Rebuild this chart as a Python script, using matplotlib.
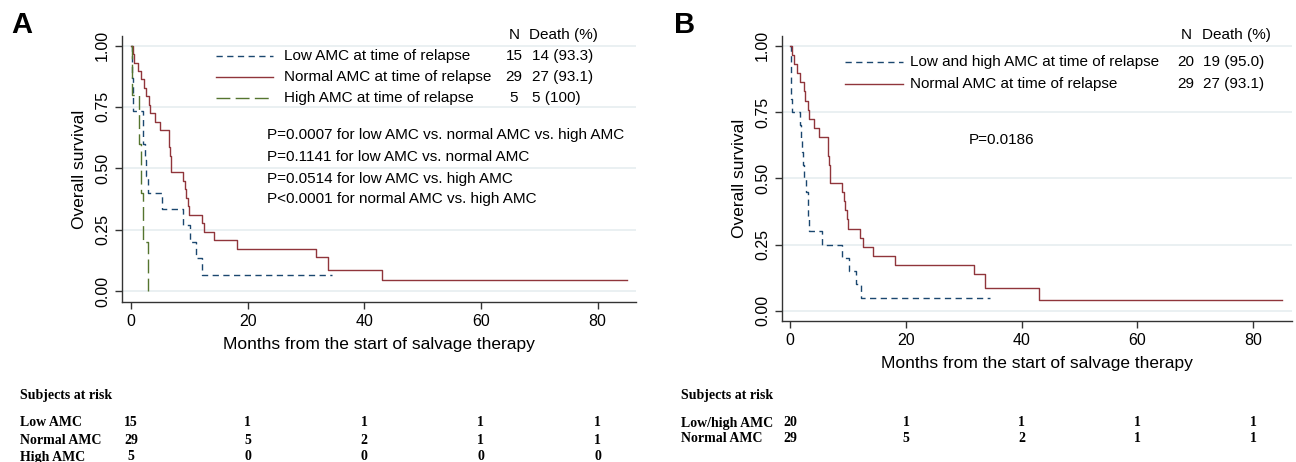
import matplotlib
matplotlib.use("Agg")
import matplotlib.pyplot as plt
from matplotlib.lines import Line2D
from matplotlib.transforms import blended_transform_factory

plt.rcParams['font.family'] = ['Liberation Sans', 'DejaVu Sans']
plt.rcParams['lines.scale_dashes'] = False

W, H = 1296, 462

# ---- data (months, survival) ----
months_low = [0, 0.1, 0.2, 0.3, 0.4, 2.0, 2.1, 2.4, 2.5, 3.0, 5.3, 8.9, 10.2, 11.1, 12.1, 34.5]
surv_low = [1.0, 0.933, 0.867, 0.8, 0.733, 0.667, 0.6, 0.533, 0.467, 0.4, 0.333, 0.267, 0.2, 0.133, 0.067, 0.067]

months_normal = [0, 0.3, 0.6, 1.2, 1.7, 2.3, 2.6, 3.1, 3.3, 4.1, 5.0, 6.5, 6.6, 6.7, 6.8, 6.9,
                 9.0, 9.2, 9.4, 9.8, 10.0, 12.1, 12.5, 14.3, 18.1, 31.8, 33.7, 43.0, 85.0]
surv_normal = [1.0, 0.966, 0.931, 0.897, 0.862, 0.828, 0.793, 0.759, 0.724, 0.690, 0.655, 0.621, 0.586, 0.552, 0.517, 0.483,
               0.448, 0.414, 0.379, 0.345, 0.310, 0.276, 0.241, 0.207, 0.172, 0.138, 0.086, 0.043, 0.043]

months_high = [0, 0.1, 1.4, 1.7, 2.0, 3.0]
surv_high = [1.0, 0.8, 0.6, 0.4, 0.2, 0.0]

months_lowhigh = [0, 0.05, 0.1, 0.15, 0.2, 0.25, 1.6, 1.8, 2.0, 2.2, 2.4, 2.7, 3.0, 3.1, 3.2,
                  5.5, 8.9, 10.2, 11.3, 12.2, 34.5]
surv_lowhigh = [1.0, 0.95, 0.9, 0.85, 0.8, 0.75, 0.7, 0.65, 0.6, 0.55, 0.5, 0.45, 0.4, 0.35, 0.3,
                0.25, 0.2, 0.15, 0.1, 0.05, 0.05]

risk_times = [0, 20, 40, 60, 80]
risk_a_labels = ["Low AMC", "Normal AMC", "High AMC"]
risk_a = [[15, 1, 1, 1, 1], [29, 5, 2, 1, 1], [5, 0, 0, 0, 0]]
risk_b_labels = ["Low/high AMC", "Normal AMC"]
risk_b = [[20, 1, 1, 1, 1], [29, 5, 2, 1, 1]]

legend_a = [("Low AMC at time of relapse", "15", "14 (93.3)"),
            ("Normal AMC at time of relapse", "29", "27 (93.1)"),
            ("High AMC at time of relapse", "5", "5 (100)")]
legend_b = [("Low and high AMC at time of relapse", "20", "19 (95.0)"),
            ("Normal AMC at time of relapse", "29", "27 (93.1)")]
pvals_a = ["P=0.0007 for low AMC vs. normal AMC vs. high AMC",
           "P=0.1141 for low AMC vs. normal AMC",
           "P=0.0514 for low AMC vs. high AMC",
           "P<0.0001 for normal AMC vs. high AMC"]
pval_b = "P=0.0186"

BLUE = "#1a476f"
RED = "#90353b"
GREEN = "#55752f"
GRID = "#e6eef0"
STYLE_BLUE = dict(color=BLUE, lw=1.0, dashes=(4.5, 3.2))
STYLE_RED = dict(color=RED, lw=1.0)
STYLE_GREEN = dict(color=GREEN, lw=1.0, dashes=(10, 3.8))


def fx(x):
    return x / W


def fy(y):
    return 1 - y / H


fig = plt.figure(figsize=(W / 100, H / 100), dpi=100)


def setup_axes(rect, xlim, ylim):
    ax = fig.add_axes(rect)
    ax.set_xlim(*xlim)
    ax.set_ylim(*ylim)
    for s in ["top", "right"]:
        ax.spines[s].set_visible(False)
    for s in ["left", "bottom"]:
        ax.spines[s].set_color("#333333")
        ax.spines[s].set_linewidth(1.0)
    ax.set_xticks([0, 20, 40, 60, 80])
    ax.set_yticks([0, 0.25, 0.5, 0.75, 1.0])
    ax.set_yticklabels(["0.00", "0.25", "0.50", "0.75", "1.00"], rotation=90, va="center")
    ax.tick_params(length=5, width=1, color="#333333", labelsize=11.5)
    for v in [0, 0.25, 0.5, 0.75, 1.0]:
        ax.axhline(v, color=GRID, lw=1.2, zorder=0)
    ax.set_ylabel("Overall survival", fontsize=12.5, labelpad=6)
    ax.set_xlabel("Months from the start of salvage therapy", fontsize=12.5, labelpad=6)
    return ax


# ---------------- Panel A ----------------
axA = setup_axes([fx(122), fy(302), fx(514), 266 / H], (-1.54, 86.6), (-0.045, 1.039))
axA.step(months_low, surv_low, where="post", **STYLE_BLUE)
axA.step(months_normal, surv_normal, where="post", **STYLE_RED)
axA.step(months_high, surv_high, where="post", **STYLE_GREEN)

fig.text(fx(22), fy(25), "A", fontsize=21, fontweight="bold", ha="center", va="center")

fig.text(fx(509), fy(35), "N", fontsize=11, va="center", ha="left")
fig.text(fx(529), fy(35), "Death (%)", fontsize=11, va="center", ha="left")
for (lab, n, d), st, yy in zip(legend_a, [STYLE_BLUE, STYLE_RED, STYLE_GREEN], [56, 77, 98]):
    fig.add_artist(Line2D([fx(216), fx(273)], [fy(yy), fy(yy)], **st))
    fig.text(fx(284), fy(yy), lab, fontsize=11, va="center")
    fig.text(fx(514), fy(yy), n, fontsize=11, va="center", ha="center")
    fig.text(fx(532), fy(yy), d, fontsize=11, va="center")
for txt, yy in zip(pvals_a, [135, 157, 179, 199]):
    fig.text(fx(267), fy(yy), txt, fontsize=11, va="center")

trA = blended_transform_factory(axA.transData, fig.transFigure)
serif = ['Liberation Serif', 'DejaVu Serif']
fig.text(fx(20), fy(395), "Subjects at risk", family=serif, fontweight="bold", fontsize=10, va="center")
for lab, row, yy in zip(risk_a_labels, risk_a, [423, 440, 457]):
    fig.text(fx(20), fy(yy), lab, family=serif, fontweight="bold", fontsize=10, va="center")
    for t, v in zip(risk_times, row):
        fig.text(t, fy(yy), str(v), transform=trA, family=serif, fontweight="bold",
                 fontsize=10, va="center", ha="center")

# ---------------- Panel B ----------------
axB = setup_axes([fx(782), fy(321), fx(510), 285 / H], (-1.43, 86.7), (-0.038, 1.037))
axB.step(months_lowhigh, surv_lowhigh, where="post", **STYLE_BLUE)
axB.step(months_normal, surv_normal, where="post", **STYLE_RED)

fig.text(fx(685), fy(25), "B", fontsize=21, fontweight="bold", ha="center", va="center")

fig.text(fx(1181), fy(35), "N", fontsize=11, va="center", ha="left")
fig.text(fx(1202), fy(35), "Death (%)", fontsize=11, va="center", ha="left")
for (lab, n, d), st, yy in zip(legend_b, [STYLE_BLUE, STYLE_RED], [62, 84]):
    fig.add_artist(Line2D([fx(845), fx(903)], [fy(yy), fy(yy)], **st))
    fig.text(fx(910), fy(yy), lab, fontsize=11, va="center")
    fig.text(fx(1186), fy(yy), n, fontsize=11, va="center", ha="center")
    fig.text(fx(1203), fy(yy), d, fontsize=11, va="center")
fig.text(fx(969), fy(140), pval_b, fontsize=11, va="center")

trB = blended_transform_factory(axB.transData, fig.transFigure)
fig.text(fx(681), fy(395), "Subjects at risk", family=serif, fontweight="bold", fontsize=10, va="center")
for lab, row, yy in zip(risk_b_labels, risk_b, [423, 439]):
    fig.text(fx(681), fy(yy), lab, family=serif, fontweight="bold", fontsize=10, va="center")
    for t, v in zip(risk_times, row):
        fig.text(t, fy(yy), str(v), transform=trB, family=serif, fontweight="bold",
                 fontsize=10, va="center", ha="center")

fig.savefig("out.png", dpi=100)
